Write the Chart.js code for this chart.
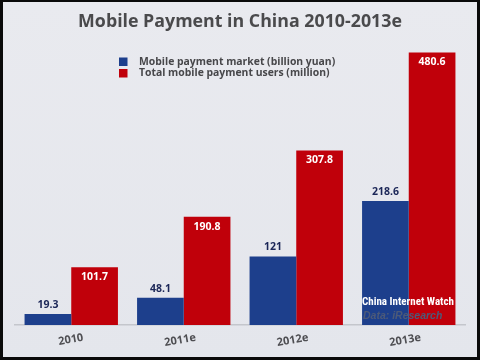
<!DOCTYPE html>
<html>
<head>
<meta charset="utf-8">
<script src="https://cdn.jsdelivr.net/npm/chart.js@4"></script>
<style>
html,body{margin:0;padding:0;background:#000;}
#wrap{position:absolute;left:0;top:0;width:480px;height:360px;background:#111;}
canvas{position:absolute;left:0;top:0;}
</style>
</head>
<body>
<div id="wrap"><canvas id="c" width="480" height="360"></canvas></div>
<script>
const categories = ['2010', '2011e', '2012e', '2013e'];
const marketValues = [19.3, 48.1, 121, 218.6];
const userValues = [101.7, 190.8, 307.8, 480.6];
const seriesNames = ['Mobile payment market (billion yuan)', 'Total mobile payment users (million)'];
const valueLabels = [['19.3', '48.1', '121', '218.6'], ['101.7', '190.8', '307.8', '480.6']];
const titleText = 'Mobile Payment in China 2010-2013e';
const sourceLines = ['China Internet Watch', 'Data: iResearch'];

const BLUE = '#1d3f8c';
const RED = '#c0000a';

const decor = {
  id: 'decor',
  beforeDraw(chart) {
    const ctx = chart.ctx;
    ctx.save();
    ctx.fillStyle = '#0a0a0a';
    ctx.fillRect(0, 0, 480, 360);
    const g = ctx.createLinearGradient(0, 0, 0, 360);
    g.addColorStop(0, '#e9eaef');
    g.addColorStop(1, '#e4e6ec');
    ctx.fillStyle = g;
    ctx.fillRect(3, 2, 474, 355);
    // title
    ctx.fillStyle = '#4a4a4c';
    ctx.font = 'bold 17.8px "Open Sans", "Liberation Sans", sans-serif';
    ctx.textAlign = 'center';
    ctx.textBaseline = 'middle';
    ctx.fillText(titleText, 240, 22);
    // legend
    const colors = [BLUE, RED];
    ctx.font = 'bold 10.4px "Open Sans", "Liberation Sans", sans-serif';
    ctx.textAlign = 'left';
    for (let i = 0; i < 2; i++) {
      const y = 62 + i * 11.5;
      ctx.fillStyle = colors[i];
      ctx.fillRect(119, y - 4.5, 8.5, 8.5);
      ctx.fillStyle = '#47474a';
      ctx.fillText(seriesNames[i], 139, y);
    }
    ctx.restore();
  },
  afterDatasetsDraw(chart) {
    const ctx = chart.ctx;
    ctx.save();
    ctx.textAlign = 'center';
    ctx.textBaseline = 'middle';
    ctx.font = 'bold 10.5px "Open Sans", "Liberation Sans", sans-serif';
    chart.data.datasets.forEach((ds, di) => {
      const meta = chart.getDatasetMeta(di);
      meta.data.forEach((bar, i) => {
        const txt = valueLabels[di][i];
        if (di === 0) {
          ctx.fillStyle = '#1b2657';
          ctx.fillText(txt, bar.x, bar.y - 9);
        } else {
          ctx.fillStyle = '#ffffff';
          ctx.fillText(txt, bar.x, bar.y + 10);
        }
      });
    });
    // source
    ctx.textAlign = 'left';
    ctx.fillStyle = '#ffffff';
    ctx.font = 'bold 11px "Liberation Sans Narrow", "Roboto Condensed", "Liberation Sans", sans-serif';
    ctx.fillText(sourceLines[0], 362, 302);
    ctx.fillStyle = '#4d5a78';
    ctx.font = 'italic bold 10.5px "Liberation Sans", sans-serif';
    ctx.fillText(sourceLines[1], 363, 316);
    ctx.restore();
  }
};

new Chart(document.getElementById('c'), {
  type: 'bar',
  data: {
    labels: categories,
    datasets: [
      { label: seriesNames[0], data: marketValues, backgroundColor: BLUE, borderWidth: 0 },
      { label: seriesNames[1], data: userValues, backgroundColor: RED, borderWidth: 0 }
    ]
  },
  options: {
    responsive: false,
    animation: false,
    devicePixelRatio: 1,
    layout: { padding: { top: 41.5, left: 15, right: 15, bottom: 0 } },
    plugins: { legend: { display: false }, title: { display: false }, tooltip: { enabled: false } },
    datasets: { bar: { categoryPercentage: 0.83, barPercentage: 1.0 } },
    scales: {
      x: {
        grid: { display: false, drawTicks: false },
        border: { display: true, color: '#c4c6cc', width: 1.5 },
        ticks: {
          color: '#4e4e52',
          font: { family: '"Open Sans", "Liberation Sans", sans-serif', weight: 'bold', size: 11 },
          minRotation: 10, maxRotation: 10,
          padding: 6,
          labelOffset: 12
        },
        afterFit(scale) { scale.height = 35; }
      },
      y: { display: false, min: 0, max: 500 }
    }
  },
  plugins: [decor]
});
</script>
</body>
</html>
